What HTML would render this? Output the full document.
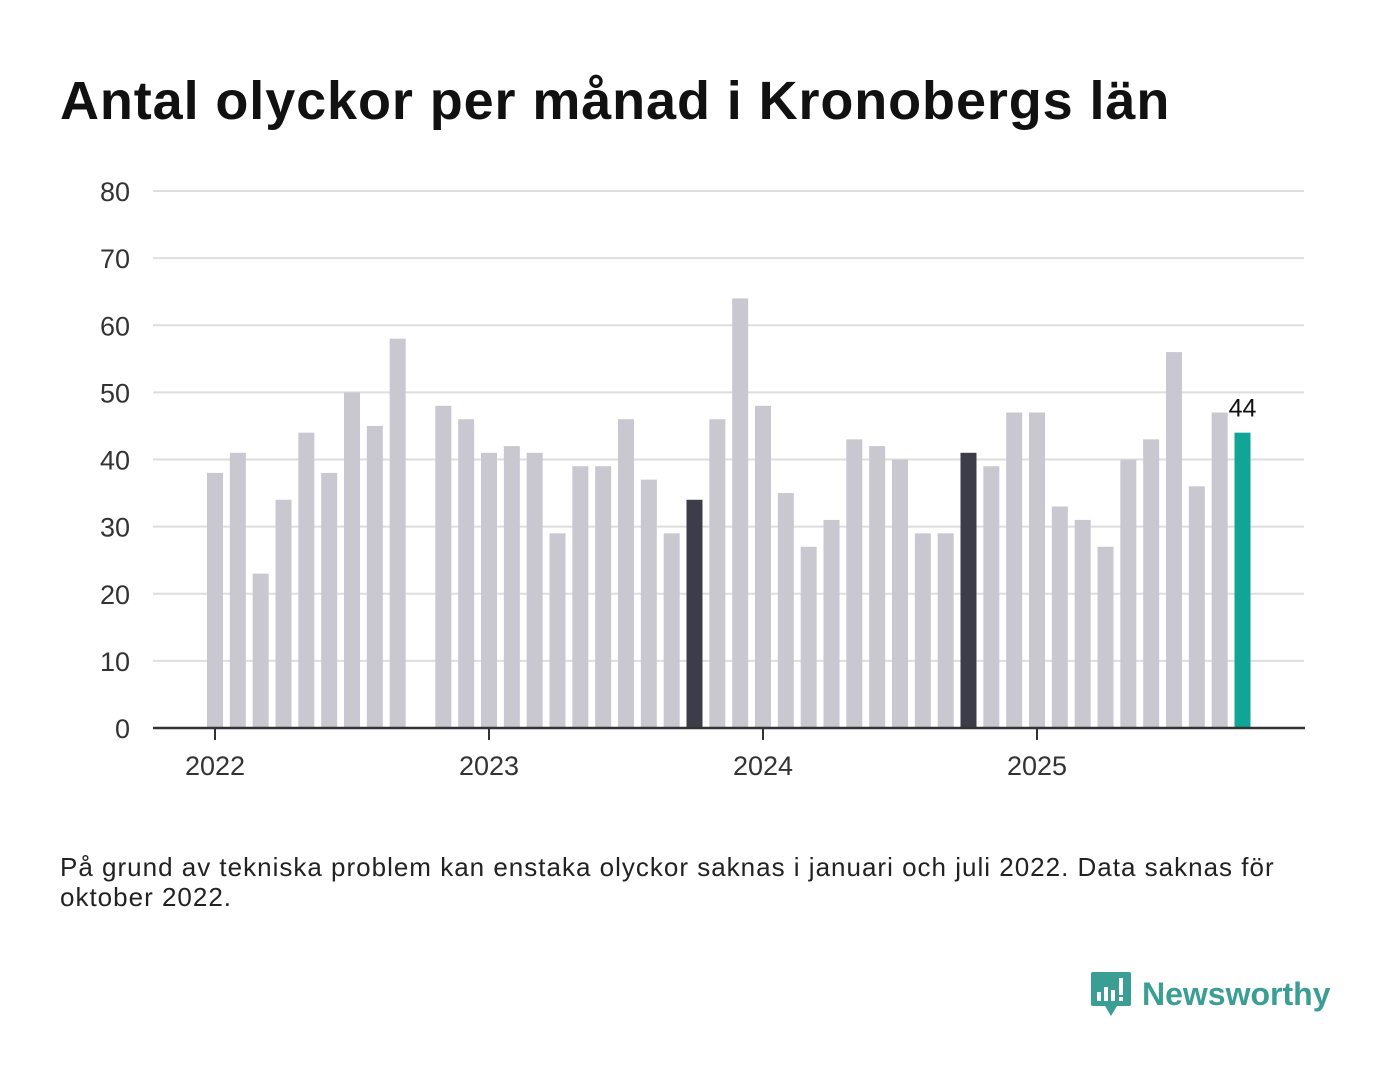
<!DOCTYPE html>
<html><head><meta charset="utf-8"><style>
body{margin:0;background:#fff;font-family:"Liberation Sans",sans-serif;}
#wrap{position:relative;width:1400px;height:1080px;overflow:hidden;}
h1{position:absolute;left:60px;top:70px;margin:0;font-size:54px;font-weight:bold;color:#111;letter-spacing:0.9px;white-space:nowrap}
#note{position:absolute;left:60px;top:852px;font-size:26px;color:#222;line-height:30px;width:1260px;letter-spacing:1px}
#logo{position:absolute;left:1090px;top:970px;display:flex;align-items:center}
#logo span{font-size:32px;font-weight:bold;color:#3a9e94;margin-left:10px}
</style></head><body><div id="wrap">
<h1>Antal olyckor per månad i Kronobergs län</h1>
<svg id="chart" width="1400" height="820" style="position:absolute;left:0;top:0"></svg>
<div id="note">På grund av tekniska problem kan enstaka olyckor saknas i januari och juli 2022. Data saknas för oktober 2022.</div>
<div id="logo">
<svg width="42" height="48" viewBox="0 0 42 48"><path d="M3 2h36a2 2 0 0 1 2 2v30a2 2 0 0 1-2 2H27l-6 10-6-10H3a2 2 0 0 1-2-2V4a2 2 0 0 1 2-2z" fill="#3a9e94"/><rect x="7" y="22" width="4" height="9" fill="#fff"/><rect x="14" y="17" width="4" height="14" fill="#fff"/><rect x="21" y="20" width="4" height="11" fill="#fff"/><rect x="29" y="8" width="4" height="17" fill="#fff"/><rect x="29" y="27" width="4" height="4" fill="#fff"/></svg>
<span>Newsworthy</span></div>
</div>
<script>
const values=[38,41,23,34,44,38,50,45,58,null,48,46,
41,42,41,29,39,39,46,37,29,34,46,64,
48,35,27,31,43,42,40,29,29,41,39,47,
47,33,31,27,40,43,56,36,47,44];
const highlightDark=[21,33];
const highlightTeal=45;
const yTicks=[0,10,20,30,40,50,60,70,80];
const years=["2022","2023","2024","2025"];
const NS="http://www.w3.org/2000/svg";
const svg=document.getElementById('chart');
const y=v=>728-v*(537/80);
const x=i=>215+i*(274/12);
function mk(t,a){const e=document.createElementNS(NS,t);for(const k in a)e.setAttribute(k,a[k]);svg.appendChild(e);return e;}
yTicks.forEach(t=>{
 if(t>0){const l=mk('line',{x1:153,x2:1304,y1:y(t),y2:y(t),stroke:'#dedede','stroke-width':2});
 
 }
 const tx=mk('text',{x:130,y:y(t)+10,'text-anchor':'end','font-size':27,fill:'#333','font-family':'Liberation Sans'});
 tx.textContent=t;
 
 
});
values.forEach((v,i)=>{
 if(v==null)return;
 let c='#c9c8d0';
 if(highlightDark.includes(i))c='#3d3d49';
 if(i===highlightTeal)c='#10a597';
 const r=mk('rect',{x:x(i)-8,y:y(v),width:16,height:728-y(v),fill:c});
 
 
});
const lv=mk('text',{x:x(highlightTeal),y:y(values[highlightTeal])-16,'text-anchor':'middle','font-size':25,fill:'#111','font-family':'Liberation Sans'});
lv.textContent=values[highlightTeal];


const base=mk('line',{x1:153,x2:1305,y1:728,y2:728,stroke:'#333','stroke-width':2.5});


years.forEach((yr,k)=>{
 const px=x(k*12);
 const tk=mk('line',{x1:px,x2:px,y1:728,y2:740,stroke:'#333','stroke-width':2});
 
 
 const t=mk('text',{x:px,y:775,'text-anchor':'middle','font-size':27,fill:'#333','font-family':'Liberation Sans'});
 t.textContent=yr;
 
 
});
</script></body></html>
